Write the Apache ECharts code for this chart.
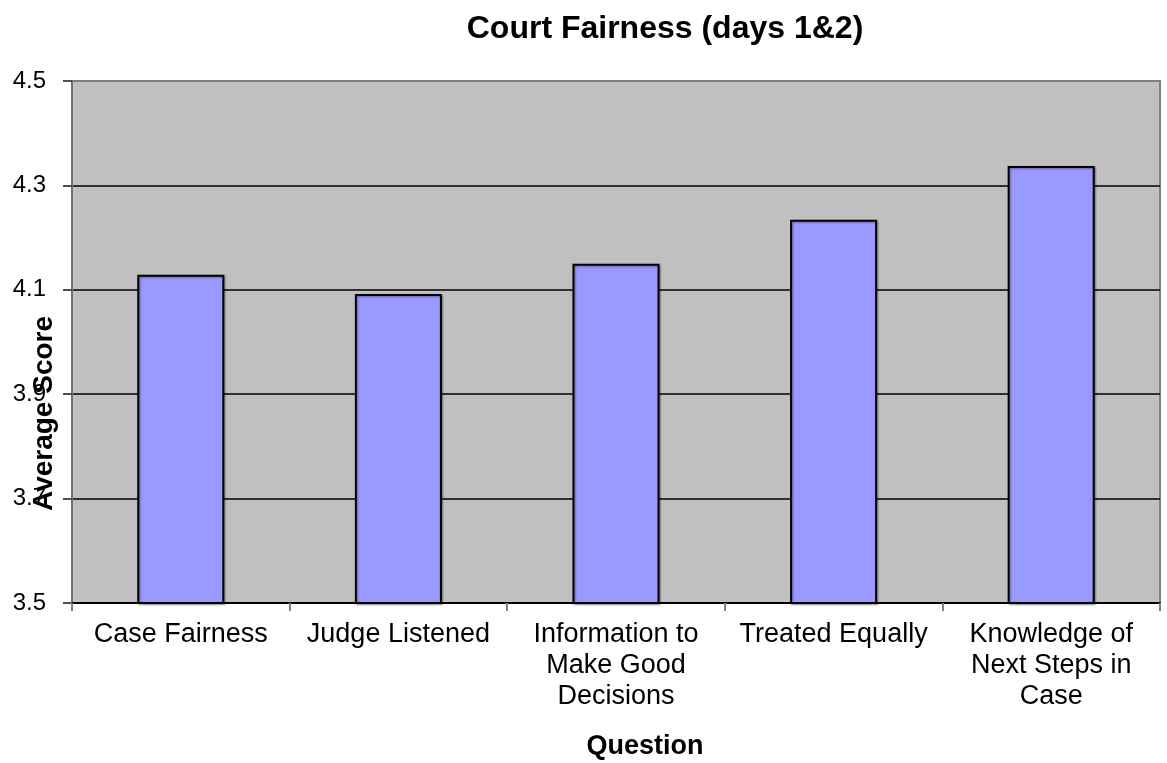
<!DOCTYPE html>
<html>
<head>
<meta charset="utf-8">
<script src="https://cdn.jsdelivr.net/npm/echarts@6/dist/echarts.min.js"></script>
<style>
  * { margin: 0; padding: 0; }
  html, body { background: #fff; }
  #chart { width: 1167px; height: 763px; }
</style>
</head>
<body>
<div id="chart"></div>
<script>
// questions on the x axis (line breaks as in the original labels)
const questions = [
  "Case Fairness",
  "Judge Listened",
  "Information to\nMake Good\nDecisions",
  "Treated Equally",
  "Knowledge of\nNext Steps in\nCase"
];
// average score per question
const avgScore = [4.129, 4.092, 4.150, 4.234, 4.337];
// y axis range
const yMin = 3.5;
const yMax = 4.5;
const yStep = 0.2;

const chart = echarts.init(document.getElementById("chart"));
const font = "'Liberation Sans', Arial, sans-serif";

const option = {
  backgroundColor: "#ffffff",
  animation: false,
  title: {
    text: "Court Fairness (days 1&2)",
    left: 660,
    top: 8,
    textAlign: "center",
    textStyle: { fontFamily: font, fontSize: 32, fontWeight: "bold", color: "#000" }
  },
  grid: {
    left: 72,
    right: 7,
    top: 81,
    bottom: 160,
    outerBoundsMode: "none",
    containLabel: false,
    show: true,
    backgroundColor: "#c0c0c0",
    borderColor: "#808080",
    borderWidth: 2
  },
  xAxis: {
    type: "category",
    data: questions,
    name: "Question",
    nameLocation: "middle",
    nameGap: 130,
    nameMoveOverlap: false,
    nameTextStyle: {
      fontFamily: font, fontSize: 27, fontWeight: "bold", color: "#000",
      padding: [0, 0, 0, 58]
    },
    axisLine: { lineStyle: { color: "#000", width: 2 } },
    axisTick: { show: true, length: 8, lineStyle: { color: "#808080", width: 2 } },
    axisLabel: {
      interval: 0,
      margin: 16,
      fontFamily: font,
      fontSize: 27,
      lineHeight: 31,
      color: "#000",
      align: "center"
    }
  },
  yAxis: {
    type: "value",
    min: yMin,
    max: yMax,
    interval: yStep,
    name: "Average Score",
    nameLocation: "middle",
    nameGap: 14,
    nameMoveOverlap: false, // the original overlaps its tick labels
    nameTextStyle: {
      fontFamily: font, fontSize: 28, fontWeight: "bold", color: "#000",
      padding: [0, 143, 0, 0]
    },
    axisLine: { show: true, lineStyle: { color: "#707070", width: 2 } },
    axisTick: { show: true, length: 9, lineStyle: { color: "#505050", width: 2 } },
    axisLabel: {
      margin: 26,
      fontFamily: font,
      fontSize: 24,
      color: "#000",
      formatter: v => v.toFixed(1)
    },
    splitLine: {
      show: true,
      showMinLine: false,
      showMaxLine: false,
      lineStyle: { color: "#000", width: 1.5 }
    }
  },
  series: [
    {
      name: "Average Score",
      type: "bar",
      data: avgScore,
      barWidth: "40%",
      itemStyle: {
        color: "#9999ff",
        borderColor: "#000",
        borderWidth: 2,
        shadowColor: "rgba(0,0,0,0.35)",
        shadowBlur: 2,
        shadowOffsetX: 1,
        shadowOffsetY: 1
      }
    }
  ]
};

chart.setOption(option);
</script>
</body>
</html>
